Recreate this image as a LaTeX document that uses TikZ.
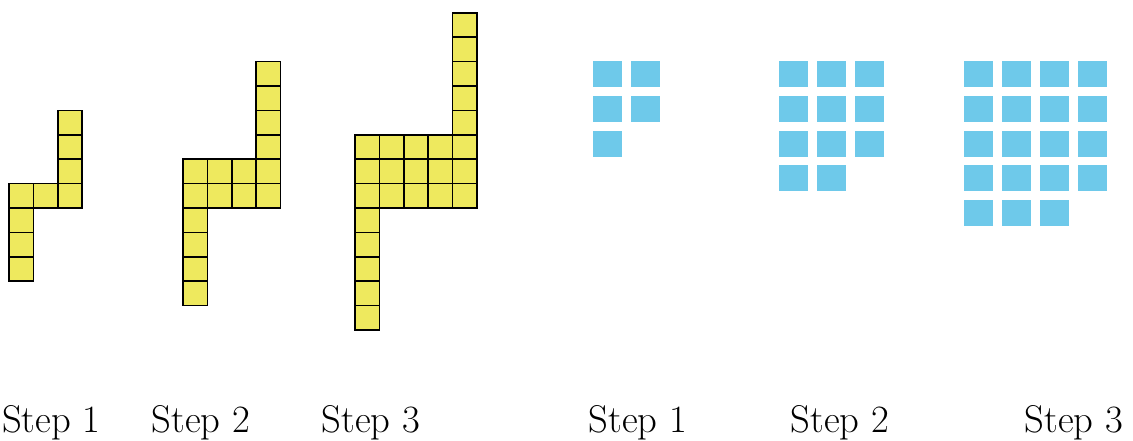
\documentclass[tikz,border=0pt]{standalone}
\usepackage{tikz}
\usetikzlibrary{positioning}
\definecolor{tileyellow}{RGB}{238,233,94}
\definecolor{tileblue}{RGB}{110,201,234}

\begin{document}
\begin{tikzpicture}[x=0.02cm,y=-0.02cm,every node/.style={font=\fontsize{22}{25}\selectfont},ycell/.style={fill=tileyellow,draw=black,line width=1pt},bcell/.style={fill=tileblue},steplabel/.style={anchor=base}]
\useasboundingbox (0,0) rectangle (1133,440);
\def\c{24.4}
% yellow pattern, block bottom at y=208
\foreach \n/\xo in {1/9,2/183,3/355}{
  \pgfmathtruncatemacro\m{\n+2}
  \foreach \r in {1,...,\n}{\foreach \k in {1,...,\m}{\filldraw[ycell] ({\xo+(\k-1)*\c},{208-\r*\c}) rectangle ++(\c,\c);}}
  \foreach \j in {1,...,\m}{\filldraw[ycell] ({\xo+(\m-1)*\c},{208-\n*\c-\j*\c}) rectangle ++(\c,\c);}
  \foreach \j in {1,...,\m}{\filldraw[ycell] (\xo,{208+(\j-1)*\c}) rectangle ++(\c,\c);}
}
% blue pattern: (n+1)x(n+1) grid plus n in the last row
\foreach \n/\xo in {1/593,2/779,3/964}{
  \pgfmathtruncatemacro\m{\n+1}
  \foreach \r in {1,...,\m}{\foreach \k in {1,...,\m}{\fill[bcell] ({\xo+(\k-1)*38},{61+(\r-1)*34.8}) rectangle ++(29,26);}}
  \foreach \k in {1,...,\n}{\fill[bcell] ({\xo+(\k-1)*38},{61+\m*34.8}) rectangle ++(29,26);}
}
\node[steplabel,anchor=base west,inner xsep=1pt] (ylab1) at (0,432) {Step 1};
\node[steplabel] (ylab2) at (201,432) {Step 2};
\node[steplabel] (ylab3) at (371,432) {Step 3};
\node[steplabel] (blab1) at (638,432) {Step 1};
\node[steplabel] (blab2) at (840,432) {Step 2};
\node[steplabel] (blab3) at (1074,432) {Step 3};
\end{tikzpicture}
\end{document}
